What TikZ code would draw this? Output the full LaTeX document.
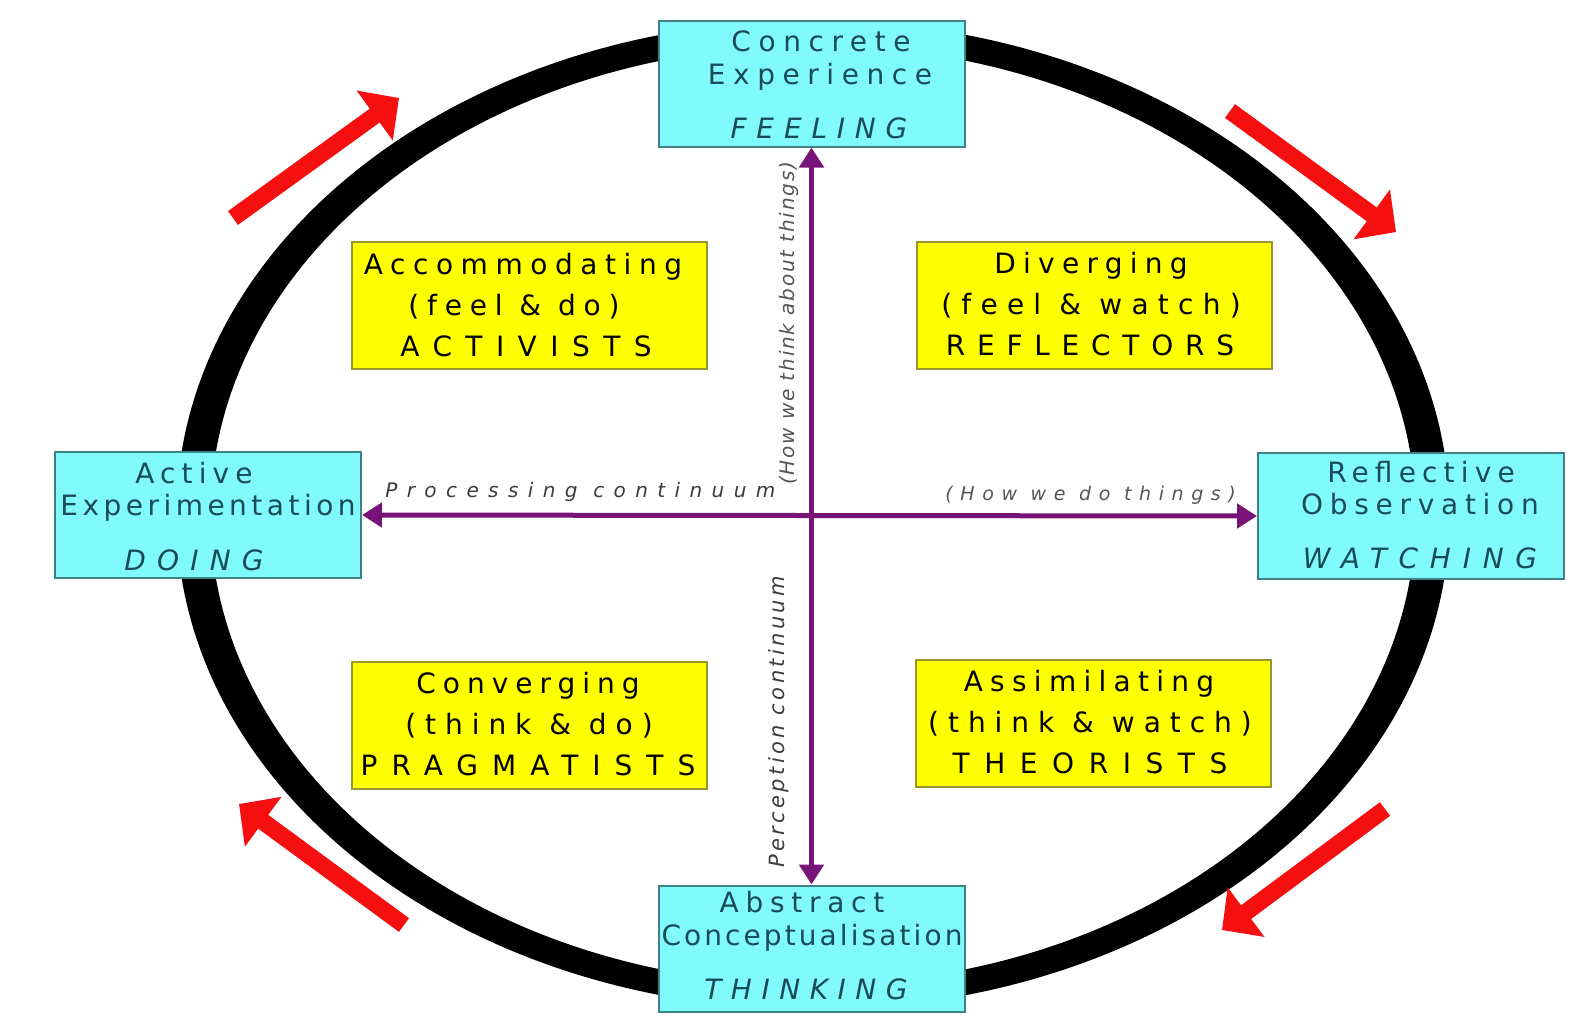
\documentclass[tikz,border=0pt]{standalone}
\usepackage{fontspec}
\setmainfont{DejaVu Sans}
\usetikzlibrary{arrows.meta}
\newcommand\lsp[2]{{\addfontfeature{LetterSpace=#1}#2}}
\definecolor{cyfill}{RGB}{128,250,252}
\definecolor{cyborder}{RGB}{60,130,135}
\definecolor{cytext}{RGB}{25,75,88}
\definecolor{yfill}{RGB}{255,255,0}
\definecolor{yborder}{RGB}{150,150,50}
\definecolor{axiscol}{RGB}{120,20,120}
\definecolor{lblcol}{RGB}{60,60,60}
\definecolor{lblcol2}{RGB}{85,85,85}
\definecolor{arrred}{RGB}{245,15,15}
\begin{document}
\begin{tikzpicture}[x=0.5pt,y=-0.5pt,
  cybox/.style={draw=cyborder, line width=1pt, fill=cyfill, minimum width=153pt, minimum height=63pt, inner sep=0pt},
  ybox/.style={draw=yborder, line width=1pt, fill=yfill, minimum width=177.5pt, minimum height=63.5pt, inner sep=0pt},
  cyl/.style={anchor=base, inner sep=0pt, text=cytext, font=\fontsize{14pt}{16pt}\selectfont},
  cyi/.style={cyl, font=\fontsize{14pt}{16pt}\selectfont\itshape},
  yl/.style={anchor=base, inner sep=0pt, text=black, font=\fontsize{14pt}{16pt}\selectfont},
  axisline/.style={draw=axiscol, line width=2.5pt, {Triangle[width=12pt,length=10pt]}-{Triangle[width=12pt,length=10pt]}},
  redarrow/.style={draw=arrred, line width=8.5pt, -{Triangle[width=30pt,length=15pt]}},
  axlbl/.style={inner sep=0pt, font=\fontsize{10pt}{12pt}\selectfont\itshape}
]
\fill[white] (0,0) rectangle (1590,1030);
\useasboundingbox (0,0) rectangle (1590,1030);

% cycle ring (thicker at the sides than at top and bottom)
\fill[black, even odd rule] (813,515) ellipse [x radius=636.5, y radius=494.5]
  (813,515) ellipse [x radius=602.5, y radius=469.5];

% red arrows
\coordinate (r1a) at (233,218); \coordinate (r1b) at (399,98);
\coordinate (r2a) at (1230,111); \coordinate (r2b) at (1396,232);
\coordinate (r3a) at (1385,809); \coordinate (r3b) at (1222,930);
\coordinate (r4a) at (404,925); \coordinate (r4b) at (239,804);
\draw[redarrow] (r1a) -- (r1b);
\draw[redarrow] (r2a) -- (r2b);
\draw[redarrow] (r3a) -- (r3b);
\draw[redarrow] (r4a) -- (r4b);

% cyan boxes
\node[cybox] (ce) at (811.5,83.5) {};
\node[cybox] (ae) at (208,515) {};
\node[cybox] (ro) at (1411,516) {};
\node[cybox] (ac) at (811.5,948.5) {};

\node[cyl] (ce1) at (821,51.5) {\lsp{27}{Concrete}};
\node[cyl] (ce2) at (820,84) {\lsp{27}{Experience}};
\node[cyi] (ce3) at (819,138) {\lsp{35}{FEELING}};

\node[cyl] (ae1) at (194,483) {\lsp{22}{Active}};
\node[cyl] (ae2) at (208,515) {\lsp{16}{Experimentation}};
\node[cyi] (ae3) at (194,570) {\lsp{40}{DOING}};

\node[cyl] (ro1) at (1421,482) {\lsp{22}{Reflective}};
\node[cyl] (ro2) at (1420,514) {\lsp{24}{Observation}};
\node[cyi] (ro3) at (1420,568) {\lsp{42}{WATCHING}};

\node[cyl] (ac1) at (802,912) {\lsp{24}{Abstract}};
\node[cyl] (ac2) at (812,945) {\lsp{11}{Conceptualisation}};
\node[cyi] (ac3) at (806,999) {\lsp{34}{THINKING}};

% yellow boxes
\node[ybox] (acc) at (529,305) {};
\node[ybox] (div) at (1094,305.5) {};
\node[ybox] (con) at (529,725) {};
\node[ybox] (ass) at (1093,723) {};

\node[yl] (acc1) at (523,274) {\lsp{27}{Accommodating}};
\node[yl] (acc2) at (514,315) {\lsp{28}{(feel \& do)}};
\node[yl] (acc3) at (526,356) {\lsp{48}{ACTIVISTS}};

\node[yl] (div1) at (1091,273) {\lsp{26}{Diverging}};
\node[yl] (div2) at (1091,314) {\lsp{33}{(feel \& watch)}};
\node[yl] (div3) at (1090,355) {\lsp{42}{REFLECTORS}};

\node[yl] (con1) at (528,693) {\lsp{25}{Converging}};
\node[yl] (con2) at (529,734) {\lsp{32}{(think \& do)}};
\node[yl] (con3) at (528,775) {\lsp{50}{PRAGMATISTS}};

\node[yl] (ass1) at (1089,691) {\lsp{26}{Assimilating}};
\node[yl] (ass2) at (1090,732) {\lsp{32}{(think \& watch)}};
\node[yl] (ass3) at (1090,773) {\lsp{52}{THEORISTS}};

% axes
\draw[axisline] (ae.east) -- (ro.west);
\draw[axisline] (ce.south) -- (ac.north);

% axis labels
\node[axlbl, text=lblcol, anchor=base west] (proc) at (385,497) {\lsp{47}{Processing continuum}};
\node[axlbl, text=lblcol2, anchor=base west, font=\fontsize{9.5pt}{12pt}\selectfont\itshape] (howdo) at (945,500) {\lsp{40}{(How we do things)}};
\node[axlbl, text=lblcol2, anchor=base west, rotate=90] (howthink) at (794,485) {\lsp{9}{(How we think about things)}};
\node[axlbl, text=lblcol, anchor=base west, rotate=90, font=\fontsize{10.5pt}{12pt}\selectfont\itshape] (perc) at (784,868) {\lsp{16}{Perception continuum}};
\end{tikzpicture}
\end{document}
